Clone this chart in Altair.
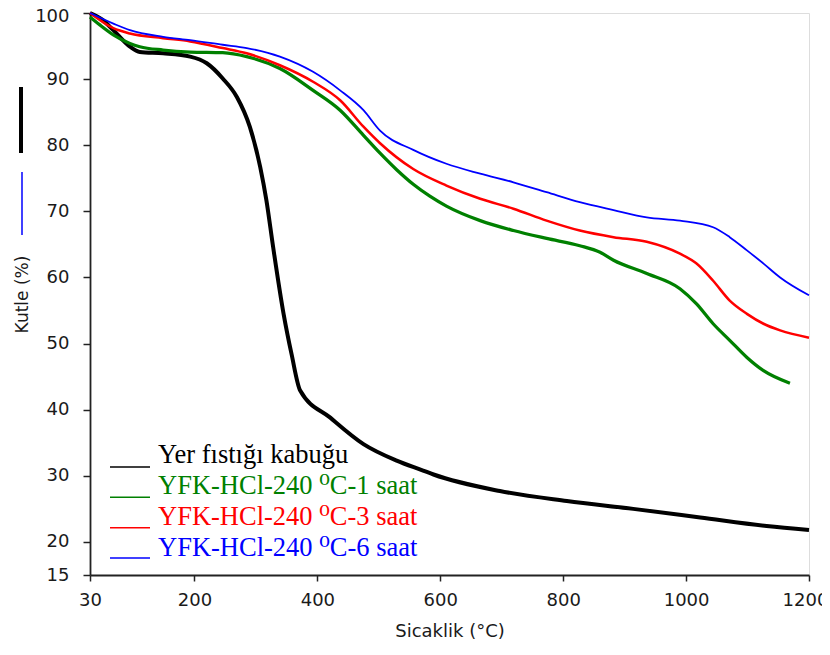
import altair as alt
import pandas as pd

# ---- data ----
series_names = [
    "Yer fıstığı kabuğu",
    "YFK-HCl-240 ⁰C-1 saat",
    "YFK-HCl-240 ⁰C-3 saat",
    "YFK-HCl-240 ⁰C-6 saat",
]
series_colors = ["#000000", "#008000", "#ff0000", "#0000ff"]
series_widths = [4, 1.8, 1.8, 1.8]

temp_kabuk = [30, 50, 68, 95, 111, 149, 193, 220, 246, 269, 290, 307, 317, 328, 345, 358,
              372, 421, 475, 529, 572, 589, 697, 806, 914, 1023, 1131, 1200]
mass_kabuk = [100, 99.0, 97.4, 94.9, 94.1, 93.9, 93.4, 92.4, 90.1, 87.3, 82.8, 76.7, 71.7, 64.6,
              54.5, 48.4, 42.9, 38.8, 34.8, 32.3, 30.8, 30.2, 27.7, 26.2, 25.0, 23.7, 22.4, 21.8]

temp_1h = [30, 46, 68, 95, 111, 149, 193, 246, 285, 339, 393, 437, 475, 502, 529, 556, 583, 610,
           665, 719, 773, 827, 860, 882, 936, 990, 1017, 1044, 1071, 1099, 1126, 1169]
mass_1h = [99.4, 98.2, 96.7, 95.4, 94.9, 94.4, 94.1, 94.0, 93.4, 91.6, 88.3, 85.3, 81.5, 78.8,
           76.3, 74.1, 72.3, 70.8, 68.6, 67.1, 65.9, 64.8, 63.8, 62.6, 60.6, 58.3, 56.0, 53.0,
           50.5, 47.9, 45.9, 44.0]

temp_3h = [30, 68, 95, 149, 193, 246, 285, 339, 393, 437, 475, 502, 556, 610, 665, 719, 773, 827,
           882, 936, 990, 1017, 1044, 1071, 1099, 1126, 1153, 1200]
mass_3h = [100, 97.7, 96.9, 96.2, 95.7, 94.7, 93.9, 92.1, 89.6, 86.8, 82.8, 80.3, 76.4, 73.9,
           71.9, 70.4, 68.6, 67.1, 66.1, 65.4, 63.6, 62.1, 59.5, 56.5, 54.5, 53.0, 52.0, 50.9]

temp_6h = [30, 68, 95, 149, 193, 246, 285, 339, 393, 437, 475, 502, 556, 610, 665, 719, 773, 827,
           882, 936, 990, 1044, 1071, 1099, 1126, 1153, 1200]
mass_6h = [100, 98.4, 97.4, 96.4, 95.9, 95.2, 94.7, 93.4, 91.1, 88.3, 85.3, 82.2, 79.3, 77.2,
           75.7, 74.4, 72.9, 71.4, 70.2, 69.1, 68.6, 67.6, 66.1, 64.1, 62.1, 60.0, 57.3]

x_ticks = [30, 200, 400, 600, 800, 1000, 1200]
y_ticks = [15, 20, 30, 40, 50, 60, 70, 80, 90, 100]

rows = []
for name, ts, ms in zip(series_names,
                        [temp_kabuk, temp_1h, temp_3h, temp_6h],
                        [mass_kabuk, mass_1h, mass_3h, mass_6h]):
    for i, (t, m) in enumerate(zip(ts, ms)):
        rows.append({"series": name, "T": t, "M": m, "i": i})
df = pd.DataFrame(rows)
legend_df = pd.DataFrame({"series": series_names})

W, H = 719, 562
AXIS_FONT = "DejaVu Sans"
LEGEND_FONT = "Liberation Serif, DejaVu Serif, serif"

color_scale = alt.Scale(domain=series_names, range=series_colors)

common_axis = dict(grid=False, labelFont=AXIS_FONT, labelFontSize=18, labelColor="#1a1a1a",
                   tickColor="#222", tickWidth=1.5, domainColor="#222", domainWidth=1.8,
                   labelFlush=False, format="d", titleFont=AXIS_FONT,
                   titleFontWeight="normal", titleColor="#1a1a1a", titleBaseline="middle")

lines = alt.Chart(df).mark_line(interpolate="monotone").encode(
    x=alt.X("T:Q", scale=alt.Scale(domain=[30, 1200], nice=False, zero=False),
            axis=alt.Axis(values=x_ticks, title="Sicaklik (°C)", tickSize=6, labelPadding=10,
                          labelOffset={"condition": {"test": "datum.value == 1200", "value": -4},
                                       "value": 0},
                          titleFontSize=18, titleX=W / 2, titleY=56, **common_axis)),
    y=alt.Y("M:Q", scale=alt.Scale(domain=[15, 100], nice=False, zero=False),
            axis=alt.Axis(values=y_ticks, title="Kutle (%)", tickSize=7, labelPadding=14,
                          labelOffset={"condition": {"test": "datum.value == 100", "value": 3},
                                       "value": 0},
                          titleFontSize=17, titleX=-68, titleY=H / 2, **common_axis)),
    color=alt.Color("series:N", scale=color_scale, legend=None),
    strokeWidth=alt.StrokeWidth("series:N",
                                scale=alt.Scale(domain=series_names, range=series_widths),
                                legend=None),
    order=alt.Order("i:Q"),
)

legend_text = alt.Chart(legend_df).mark_text(
    align="left", baseline="middle", font=LEGEND_FONT, fontSize=26.5
).encode(
    x=alt.value(68),
    y=alt.Y("series:N", scale=alt.Scale(type="point", domain=series_names,
                                        range=[442, 535], padding=0), axis=None),
    text="series:N",
    color=alt.Color("series:N", scale=color_scale, legend=None),
)

legend_lines = alt.Chart(legend_df).mark_rule(strokeWidth=1.5).encode(
    x=alt.value(20),
    x2=alt.value(60),
    y=alt.Y("series:N", scale=alt.Scale(type="point", domain=series_names,
                                        range=[454, 545], padding=0), axis=None),
    color=alt.Color("series:N", scale=color_scale, legend=None),
)

deco = pd.DataFrame({"k": [0]})
deco_black = alt.Chart(deco).mark_rule(color="#000000", strokeWidth=4).encode(
    x=alt.value(-69), y=alt.value(74), y2=alt.value(140))
deco_blue = alt.Chart(deco).mark_rule(color="#0000ff", strokeWidth=1.5).encode(
    x=alt.value(-68), y=alt.value(159), y2=alt.value(222))

chart = alt.layer(lines, legend_lines, legend_text, deco_black, deco_blue).resolve_scale(
    y="independent"
).properties(
    width=W, height=H,
    autosize=alt.AutoSizeParams(type="none"),
    padding={"left": 82, "top": 5, "right": 13, "bottom": 68},
).configure_view(stroke=None).configure(background="white")

chart.save("out.html", embed_options={"renderer": "svg", "actions": False})
